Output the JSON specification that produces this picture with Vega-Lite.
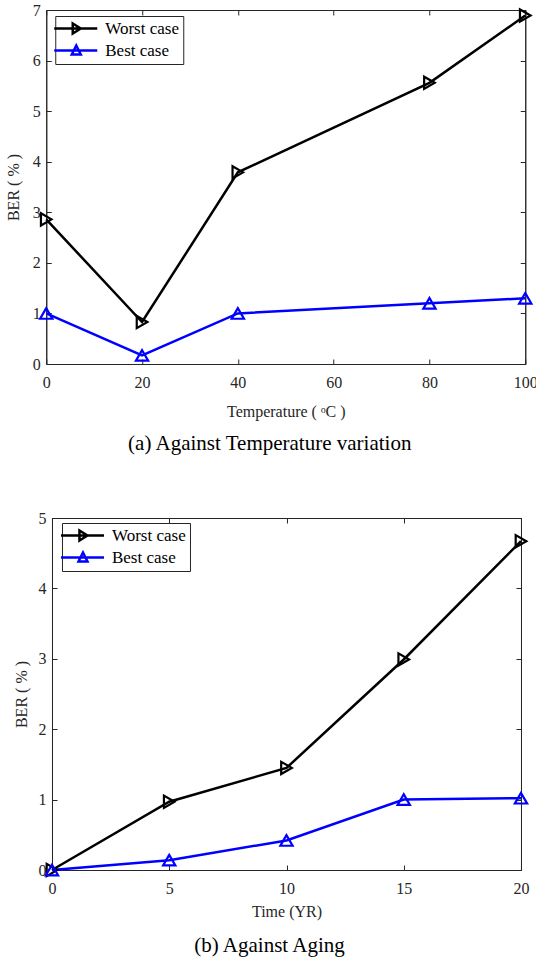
{
  "$schema": "https://vega.github.io/schema/vega-lite/v6.json",
  "background": "white",
  "padding": {"left": 4, "top": 1, "right": 5, "bottom": 2},
  "spacing": 54,
  "center": true,
  "config": {
    "font": "Liberation Serif, Times New Roman, DejaVu Serif, serif",
    "view": {"stroke": "#262626", "strokeWidth": 1},
    "axis": {
      "grid": false,
      "domainColor": "#262626",
      "tickColor": "#262626",
      "labelColor": "#262626",
      "titleColor": "#262626",
      "labelFont": "Liberation Serif, Times New Roman, DejaVu Serif, serif",
      "titleFont": "Liberation Serif, Times New Roman, DejaVu Serif, serif",
      "labelFontSize": 16,
      "titleFontSize": 16,
      "titleFontWeight": "normal",
      "labelFlush": false,
      "tickSize": -5,
      "domainWidth": 1,
      "tickWidth": 1
    },
    "axisX": {"labelPadding": 15},
    "axisY": {"labelPadding": 11},
    "legend": {
      "orient": "none", "title": null,
      "fillColor": "white", "strokeColor": "#262626", "padding": 4,
      "symbolSize": 100, "symbolStrokeWidth": 2.5,
      "labelFont": "Liberation Serif, Times New Roman, DejaVu Serif, serif", "labelFontSize": 17, "labelColor": "#000000",
      "labelOffset": 29, "rowPadding": 1
    },
    "title": {"font": "Liberation Serif, Times New Roman, DejaVu Serif, serif", "fontSize": 21, "fontWeight": "normal", "color": "#000000", "orient": "bottom"}
  },
  "resolve": {"scale": {"color": "independent"}, "legend": {"color": "independent"}},
  "vconcat": [
    {
      "width": 479,
      "height": 354,
      "title": {"text": "(a) Against Temperature variation", "dx": -16, "offset": 14},
      "data": {"values": [
        {"series": "Worst case", "temp": 0, "ber": 2.86},
        {"series": "Worst case", "temp": 20, "ber": 0.83},
        {"series": "Worst case", "temp": 40, "ber": 3.79},
        {"series": "Worst case", "temp": 80, "ber": 5.56},
        {"series": "Worst case", "temp": 100, "ber": 6.89},
        {"series": "Best case", "temp": 0, "ber": 1.0},
        {"series": "Best case", "temp": 20, "ber": 0.17},
        {"series": "Best case", "temp": 40, "ber": 1.0},
        {"series": "Best case", "temp": 80, "ber": 1.2},
        {"series": "Best case", "temp": 100, "ber": 1.3}
      ]},
      "layer": [
        {
          "mark": {"type": "line", "strokeWidth": 2.5},
          "encoding": {
            "x": {"field": "temp", "type": "quantitative", "scale": {"domain": [0, 100], "nice": false}, "axis": {"orient": "bottom", "title": "Temperature ( ᵒC )", "values": [0, 20, 40, 60, 80, 100], "titlePadding": 13}},
            "y": {"field": "ber", "type": "quantitative", "scale": {"domain": [0, 7], "nice": false}, "axis": {"orient": "left", "title": "BER ( % )", "values": [0, 1, 2, 3, 4, 5, 6, 7], "titlePadding": 11}},
            "color": {"field": "series", "type": "nominal", "scale": {"domain": ["Worst case", "Best case"], "range": ["#000000", "#0000ff"]},
              "legend": {
                "legendX": 9, "legendY": 6,
                "encode": {"symbols": {"update": {"shape": {"signal": "datum.value === 'Worst case' ? 'M-2.7,0H5.9M1.0,-1.0L2.6,0L1.0,1.0Z' : 'M-2.7,0H5.9M0.8,0.8L1.7,-1.0L2.6,0.8Z'"}, "size": {"value": 100}, "fill": {"value": "transparent"}, "strokeWidth": {"value": 2.5}}}}
              }}
          }
        },
        {
          "transform": [{"filter": "datum.series === 'Worst case'"}],
          "mark": {"type": "point", "filled": false, "shape": "triangle-right", "size": 150, "strokeWidth": 2.2, "opacity": 1},
          "encoding": {
            "x": {"field": "temp", "type": "quantitative", "axis": {"orient": "top", "labels": false, "title": null, "values": [0, 20, 40, 60, 80, 100]}},
            "y": {"field": "ber", "type": "quantitative", "axis": {"orient": "right", "labels": false, "title": null, "values": [0, 1, 2, 3, 4, 5, 6, 7]}},
            "color": {"field": "series", "type": "nominal", "legend": null}
          }
        },
        {
          "transform": [{"filter": "datum.series === 'Best case'"}],
          "mark": {"type": "point", "filled": false, "shape": "triangle-up", "size": 150, "strokeWidth": 2.2, "opacity": 1},
          "encoding": {
            "x": {"field": "temp", "type": "quantitative", "axis": null},
            "y": {"field": "ber", "type": "quantitative", "axis": null},
            "color": {"field": "series", "type": "nominal", "legend": null}
          }
        }
      ],
      "resolve": {"axis": {"x": "independent", "y": "independent"}}
    },
    {
      "width": 469,
      "height": 352,
      "title": {"text": "(b) Against Aging", "dx": -17, "offset": 16},
      "data": {"values": [
        {"series": "Worst case", "time": 0, "ber": 0.0},
        {"series": "Worst case", "time": 5, "ber": 0.97},
        {"series": "Worst case", "time": 10, "ber": 1.45},
        {"series": "Worst case", "time": 15, "ber": 2.99},
        {"series": "Worst case", "time": 20, "ber": 4.67},
        {"series": "Best case", "time": 0, "ber": 0.0},
        {"series": "Best case", "time": 5, "ber": 0.14},
        {"series": "Best case", "time": 10, "ber": 0.42},
        {"series": "Best case", "time": 15, "ber": 1.0},
        {"series": "Best case", "time": 20, "ber": 1.02}
      ]},
      "layer": [
        {
          "mark": {"type": "line", "strokeWidth": 2.5},
          "encoding": {
            "x": {"field": "time", "type": "quantitative", "scale": {"domain": [0, 20], "nice": false}, "axis": {"orient": "bottom", "title": "Time (YR)", "values": [0, 5, 10, 15, 20], "titlePadding": 7}},
            "y": {"field": "ber", "type": "quantitative", "scale": {"domain": [0, 5], "nice": false}, "axis": {"orient": "left", "title": "BER ( % )", "values": [0, 1, 2, 3, 4, 5], "titlePadding": 8}},
            "color": {"field": "series", "type": "nominal", "scale": {"domain": ["Worst case", "Best case"], "range": ["#000000", "#0000ff"]},
              "legend": {
                "legendX": 10, "legendY": 5,
                "encode": {"symbols": {"update": {"shape": {"signal": "datum.value === 'Worst case' ? 'M-2.7,0H5.9M1.0,-1.0L2.6,0L1.0,1.0Z' : 'M-2.7,0H5.9M0.8,0.8L1.7,-1.0L2.6,0.8Z'"}, "size": {"value": 100}, "fill": {"value": "transparent"}, "strokeWidth": {"value": 2.5}}}}
              }}
          }
        },
        {
          "transform": [{"filter": "datum.series === 'Worst case'"}],
          "mark": {"type": "point", "filled": false, "shape": "triangle-right", "size": 150, "strokeWidth": 2.2, "opacity": 1},
          "encoding": {
            "x": {"field": "time", "type": "quantitative", "axis": {"orient": "top", "labels": false, "title": null, "values": [0, 5, 10, 15, 20]}},
            "y": {"field": "ber", "type": "quantitative", "axis": {"orient": "right", "labels": false, "title": null, "values": [0, 1, 2, 3, 4, 5]}},
            "color": {"field": "series", "type": "nominal", "legend": null}
          }
        },
        {
          "transform": [{"filter": "datum.series === 'Best case'"}],
          "mark": {"type": "point", "filled": false, "shape": "triangle-up", "size": 150, "strokeWidth": 2.2, "opacity": 1},
          "encoding": {
            "x": {"field": "time", "type": "quantitative", "axis": null},
            "y": {"field": "ber", "type": "quantitative", "axis": null},
            "color": {"field": "series", "type": "nominal", "legend": null}
          }
        }
      ],
      "resolve": {"axis": {"x": "independent", "y": "independent"}}
    }
  ]
}
